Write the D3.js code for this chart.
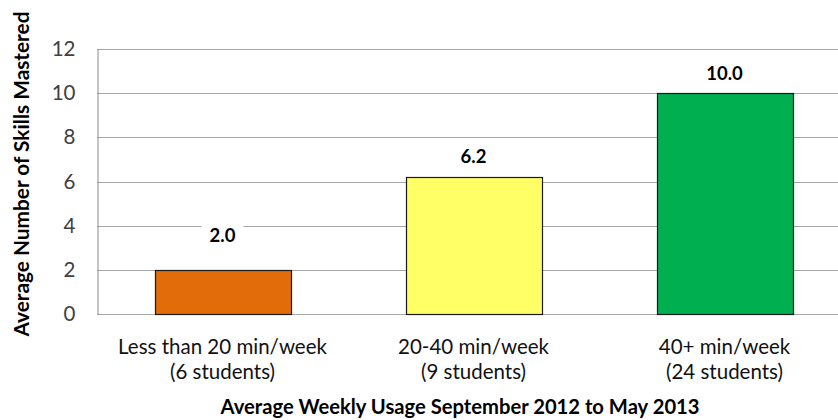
<!DOCTYPE html>
<html><head><meta charset="utf-8">
<script src="https://cdn.jsdelivr.net/npm/d3@7"></script>
<style>body{margin:0;background:#fff}svg{display:block}text{font-family:Lato,"Open Sans",sans-serif}</style>
</head><body><svg id="c" width="838" height="420"></svg>
<script>
const categoriesLine1 = ["Less than 20 min/week", "20-40 min/week", "40+ min/week"];
const categoriesLine2 = ["(6 students)", "(9 students)", "(24 students)"];
const values = [2.0, 6.2, 10.0];
const valueLabels = ["2.0", "6.2", "10.0"];
const barColors = ["#E36C0A", "#FFFF66", "#00B050"];
const yTicks = [0, 2, 4, 6, 8, 10, 12];
const labelOffsets = [34, 21, 20];
const xTitle = "Average Weekly Usage September 2012 to May 2013";
const yTitle = "Average Number of Skills Mastered";

const svg = d3.select("#c");
const m = {left: 97, top: 49, bottom: 314, right: 850};
const x = d3.scaleBand().domain(d3.range(values.length)).range([m.left, m.right]).paddingInner(0.46).paddingOuter(0.23);
const y = d3.scaleLinear().domain([0, 12]).range([m.bottom, m.top]);

// gridlines
svg.append("g").selectAll("line").data(yTicks).join("line")
  .attr("x1", m.left).attr("x2", 838).attr("y1", d => Math.round(y(d)) + 0.5).attr("y2", d => Math.round(y(d)) + 0.5)
  .attr("stroke", "#a6a6a6").attr("stroke-width", 1);
// y axis
const ya = d3.axisLeft(y).tickValues(yTicks).tickSize(0).tickPadding(22).tickFormat(d3.format("d"));
const gy = svg.append("g").attr("transform", `translate(${m.left + 0.5},0)`).call(ya);
gy.select(".domain").attr("stroke", "#8c8c8c");
gy.selectAll("text").attr("font-size", 20.5).attr("fill", "#404040").attr("font-family", "Lato,sans-serif");

// bars
svg.append("g").selectAll("rect").data(values).join("rect")
  .attr("x", (d, i) => Math.round(x(i)) + 0.5).attr("width", Math.round(x.bandwidth()))
  .attr("y", d => Math.round(y(d)) + 0.5).attr("height", d => Math.round(y(0)) - Math.round(y(d)))
  .attr("fill", (d, i) => barColors[i]).attr("stroke", "#1a1a1a").attr("stroke-width", 1.2);

// value labels with white background
const lg = svg.append("g").selectAll("g").data(values).join("g")
  .attr("transform", (d, i) => `translate(${x(i) + x.bandwidth() / 2},${y(d) - labelOffsets[i]})`);
lg.append("rect").attr("x", -21).attr("y", -12).attr("width", 42).attr("height", 24).attr("fill", "#fff");
lg.append("text").text((d, i) => valueLabels[i]).attr("text-anchor", "middle").attr("dy", "0.35em")
  .attr("font-weight", "bold").attr("font-size", 18.5).attr("fill", "#000");

// category labels
const cg = svg.append("g").selectAll("text").data(values).join("text")
  .attr("text-anchor", "middle").attr("font-size", 20.5).attr("fill", "#111");
cg.append("tspan").attr("x", (d, i) => x(i) + x.bandwidth() / 2).attr("y", 354).text((d, i) => categoriesLine1[i]);
cg.append("tspan").attr("x", (d, i) => x(i) + x.bandwidth() / 2).attr("y", 379).text((d, i) => categoriesLine2[i]);

// axis titles
svg.append("text").attr("x", 460).attr("y", 414).attr("text-anchor", "middle")
  .attr("font-weight", "bold").attr("font-size", 20.2).text(xTitle);
svg.append("text").attr("transform", "translate(29,174) rotate(-90)").attr("text-anchor", "middle")
  .attr("font-weight", "bold").attr("font-size", 20.8).text(yTitle);
</script></body></html>
